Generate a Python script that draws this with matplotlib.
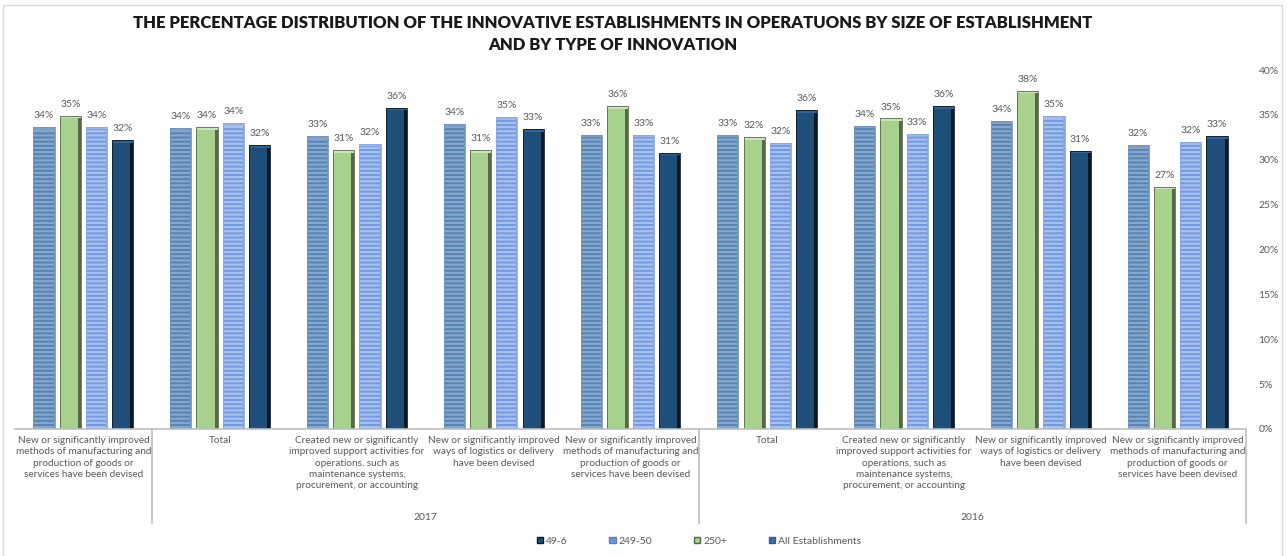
import numpy as np
import matplotlib.pyplot as plt
from matplotlib.patches import Patch, Rectangle
import matplotlib.transforms as mtransforms

plt.rcParams['font.family'] = ['Lato', 'DejaVu Sans']
plt.rcParams['hatch.linewidth'] = 1.6

# --- data ---
categories = [
    "New or significantly improved\nmethods of manufacturing and\nproduction of goods or\nservices have been devised",
    "Total",
    "Created new or significantly\nimproved support activities for\noperations, such as\nmaintenance systems,\nprocurement, or accounting",
    "New or significantly improved\nways of logistics or delivery\nhave been devised",
    "New or significantly improved\nmethods of manufacturing and\nproduction of goods or\nservices have been devised",
    "Total",
    "Created new or significantly\nimproved support activities for\noperations, such as\nmaintenance systems,\nprocurement, or accounting",
    "New or significantly improved\nways of logistics or delivery\nhave been devised",
    "New or significantly improved\nmethods of manufacturing and\nproduction of goods or\nservices have been devised",
]
years = ["", "2017", "2016"]
year_spans = [1, 4, 4]

all_est = [33.6, 33.5, 32.6, 34.0, 32.8, 32.8, 33.8, 34.3, 31.6]
size_250 = [34.9, 33.6, 31.1, 31.1, 36.0, 32.5, 34.6, 37.7, 27.0]
size_249_50 = [33.7, 34.1, 31.8, 34.8, 32.8, 31.9, 32.9, 34.9, 32.0]
size_49_6 = [32.2, 31.6, 35.8, 33.4, 30.8, 35.5, 36.0, 31.0, 32.6]

yticks = [0, 5, 10, 15, 20, 25, 30, 35, 40]

# bar order inside a group: all, 250+, 249-50, 49-6
series = [
    # values, fill, stripe, right edge, cap, hatch, edge width
    (all_est, '#5683b3', '#87a8cc', '#6d95c0', '#7aa0c8', '----', 0.008),
    (size_250, '#a9d18e', '#a9d18e', '#56684a', '#cbe6b8', None, 0.022),
    (size_249_50, '#7399de', '#a8c0ee', '#86a7e4', '#9cb8ec', '----', 0.008),
    (size_49_6, '#1f4e79', '#1f4e79', '#0b1826', '#2f6393', None, 0.022),
]

GRAY = '#595959'
W, H = 1287, 556
fig = plt.figure(figsize=(W / 100, H / 100), dpi=100)

left, right, bottom, top = 15, 1246, 429, 70
ax = fig.add_axes([left / W, (H - bottom) / H, (right - left) / W, (bottom - top) / H])

n = len(categories)
x = np.arange(n) + 0.5
step = 0.192
bw = 0.155
offsets = (np.arange(4) - 1.5) * step

for k, (vals, fill, stripe, dark, cap, hatch, ew) in enumerate(series):
    xs = x + offsets[k]
    vals = np.array(vals)
    if hatch:
        ax.bar(xs, vals, width=bw, color=fill, edgecolor=stripe, hatch=hatch, linewidth=0)
    else:
        ax.bar(xs, vals, width=bw, color=fill, linewidth=0)
    # bevel: darker right edge, lighter top cap
    ax.bar(xs + bw / 2 - ew / 2, vals, width=ew, color=dark, linewidth=0)
    ax.bar(xs, np.full(n, 0.3), bottom=vals - 0.3, width=bw, color=cap, linewidth=0)
    ax.bar(xs, vals, width=bw, fill=False, edgecolor=dark, linewidth=0.6)
    for xi, v in zip(xs, vals):
        ax.annotate(f"{v:.0f}%", (xi, v), xytext=(0, 5), textcoords='offset points',
                    ha='center', va='bottom', fontsize=7.5, color=GRAY)

ax.set_xlim(0, n)
ax.set_ylim(0, 40)
ax.set_xticks([])
ax.yaxis.tick_right()
ax.set_yticks(yticks)
ax.set_yticklabels([f"{t}%" for t in yticks], fontsize=7.5, color=GRAY)
ax.tick_params(axis='y', length=0, pad=9)
for s in ax.spines.values():
    s.set_visible(False)

# category axis
trans = mtransforms.blended_transform_factory(ax.transData, ax.transAxes)
ax_h = bottom - top
ax.plot([0, n], [0, 0], transform=trans, color='#bfbfbf', lw=1.2, clip_on=False)
drop = -(523 - bottom) / ax_h
pos = 0
for span in year_spans:
    pos += span
    ax.plot([pos, pos], [0, drop], transform=trans, color='#bfbfbf', lw=1.2, clip_on=False)

for xi, lab in zip(x, categories):
    ax.text(xi, -7 / ax_h, lab, transform=trans, ha='center', va='top',
            fontsize=7.2, color=GRAY, linespacing=1.33)

pos = 0
for yr, span in zip(years, year_spans):
    ax.text(pos + span / 2, -(517 - bottom) / ax_h, yr, transform=trans,
            ha='center', va='center', fontsize=7.5, color=GRAY)
    pos += span

# title
fig.text(613 / W, 1 - 23 / H, "THE PERCENTAGE DISTRIBUTION OF THE INNOVATIVE ESTABLISHMENTS IN OPERATUONS BY SIZE OF ESTABLISHMENT",
         ha='center', va='center', fontsize=12, fontweight='heavy', color='#1a1a1a')
fig.text(613 / W, 1 - 45 / H, "AND BY TYPE OF INNOVATION",
         ha='center', va='center', fontsize=12, fontweight='heavy', color='#1a1a1a')

# legend
handles = [
    Patch(facecolor='#1f4e79', edgecolor='#0b1826', label='49-6'),
    Patch(facecolor='#6e94dc', edgecolor='#5a80c8', label='249-50'),
    Patch(facecolor='#a9d18e', edgecolor='#56684a', label='250+'),
    Patch(facecolor='#3a6ea5', edgecolor='#2f5d8f', label='All Establishments'),
]
fig.legend(handles=handles, loc='center', bbox_to_anchor=(699 / W, 1 - 541 / H), ncol=4,
           frameon=False, fontsize=7.5, handlelength=0.6, handleheight=0.6,
           handletextpad=0.3, columnspacing=4.0, labelcolor=GRAY)

# chart border
fig.patches.append(Rectangle((3 / W, -0.02), (1282 - 3) / W, 1 - 4.5 / H + 0.02,
                             transform=fig.transFigure, fill=False, edgecolor='#d9d9d9', lw=1))

fig.savefig('out.png', dpi=100)
